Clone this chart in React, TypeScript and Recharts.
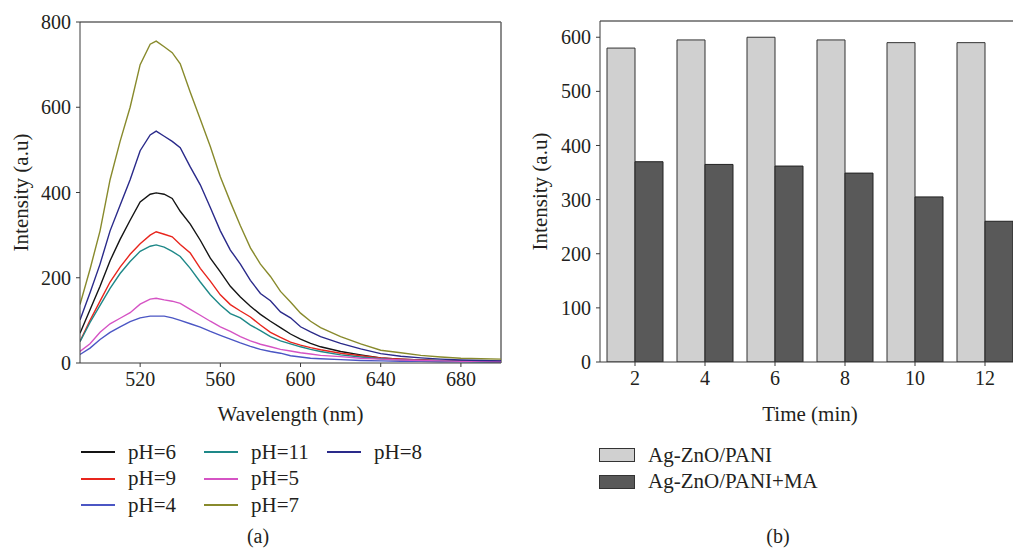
import {
  Bar,
  BarChart,
  Legend,
  Line,
  LineChart,
  ReferenceLine,
  XAxis,
  YAxis,
} from 'recharts';

const FONT =
  '"Times New Roman", "Liberation Serif", "DejaVu Serif", "Noto Serif", serif';
const TEXT = '#231f20';
const AXIS = '#3a3a3a';
const FRAME = '#666666';

// (a) emission spectra, wavelength in nm
const wavelengths = [
  490, 495, 500, 505, 510, 515, 520, 525, 528, 532, 536, 540, 545, 550, 555,
  560, 565, 570, 575, 580, 585, 590, 595, 600, 605, 610, 620, 630, 640, 650,
  660, 670, 680, 690, 700,
];
const ph6 = [
  70, 125, 180, 240, 290, 335, 378, 396, 399, 396, 386, 356, 326, 288, 246,
  214, 180, 155, 133, 114, 98, 83, 68, 56, 46, 38, 27, 19, 12, 9, 7, 6, 5, 4, 4,
];
const ph9 = [
  51, 100, 145, 190, 225, 255, 280, 300, 308, 302, 296, 278, 258, 222, 192,
  160, 137, 122, 108, 89, 72, 60, 49, 42, 36, 31, 23, 17, 12, 9, 7, 5, 4, 4, 3,
];
const ph4 = [
  20, 35, 55, 72, 85, 97, 106, 110, 110, 110, 106, 100, 92, 84, 74, 65, 56, 47,
  39, 32, 27, 23, 17, 14, 11, 10, 8, 6, 5, 4, 4, 3, 3, 3, 2,
];
const ph11 = [
  50, 95, 135, 175, 210, 238, 262, 274, 277, 272, 262, 250, 222, 190, 160, 136,
  116, 106, 89, 76, 62, 52, 45, 38, 32, 27, 19, 14, 10, 7, 6, 5, 4, 3, 3,
];
const ph5 = [
  27, 45, 72, 92, 105, 118, 138, 150, 152, 148, 145, 140, 126, 112, 98, 85, 74,
  62, 52, 44, 38, 32, 28, 24, 21, 18, 15, 11, 9, 7, 6, 5, 4, 4, 3,
];
const ph7 = [
  137, 220, 310, 430, 520, 600, 700, 748, 755, 742, 728, 702, 635, 572, 508,
  437, 378, 322, 270, 232, 203, 168, 143, 117, 98, 83, 62, 45, 30, 24, 18, 14,
  11, 10, 9,
];
const ph8 = [
  101, 165, 232, 310, 370, 430, 498, 535, 544, 532, 520, 505, 460, 418, 365,
  310, 265, 232, 194, 163, 146, 120, 106, 85, 73, 62, 46, 33, 22, 16, 12, 9, 7,
  6, 5,
];
const wlTicks = [520, 560, 600, 640, 680];
const intensityTicks = [0, 200, 400, 600, 800];

// legend order as in the figure (column by column)
const spectra = [
  { key: 'ph6', name: 'pH=6', values: ph6, color: '#141414' },
  { key: 'ph9', name: 'pH=9', values: ph9, color: '#e8251d' },
  { key: 'ph4', name: 'pH=4', values: ph4, color: '#4b56c4' },
  { key: 'ph11', name: 'pH=11', values: ph11, color: '#1e8888' },
  { key: 'ph5', name: 'pH=5', values: ph5, color: '#d553c4' },
  { key: 'ph7', name: 'pH=7', values: ph7, color: '#888a2c' },
  { key: 'ph8', name: 'pH=8', values: ph8, color: '#2a2a8a' },
];

const spectraData = wavelengths.map((wl, i) => {
  const row: Record<string, number> = { wl };
  spectra.forEach((s) => {
    row[s.key] = s.values[i];
  });
  return row;
});

// (b) intensity vs time
const times = ['2', '4', '6', '8', '10', '12'];
const plain = [580, 595, 600, 595, 590, 590];
const withMA = [370, 365, 362, 349, 305, 260];
const barTicks = [0, 100, 200, 300, 400, 500, 600];

const bars = [
  { key: 'plain', name: 'Ag-ZnO/PANI', fill: '#d0d0d0', stroke: '#333' },
  { key: 'ma', name: 'Ag-ZnO/PANI+MA', fill: '#595959', stroke: '#222' },
];

const barData = times.map((t, i) => ({ t, plain: plain[i], ma: withMA[i] }));

const tickStyle = { fill: TEXT, fontSize: 20, fontFamily: FONT };
const axisLabelStyle = { fill: TEXT, fontSize: 21, fontFamily: FONT };

// recharts sorts legend payload, so draw it from our own order
const LineLegend = () => (
  <div
    style={{
      display: 'grid',
      gridTemplateRows: 'repeat(3, 26.5px)',
      gridAutoFlow: 'column',
      gridAutoColumns: '123px',
      fontFamily: FONT,
      fontSize: 21,
      color: TEXT,
    }}
  >
    {spectra.map((s) => (
      <div key={s.key} style={{ display: 'flex', alignItems: 'center' }}>
        <svg width={34} height={4} style={{ marginRight: 13 }}>
          <line x1={0} y1={2} x2={34} y2={2} stroke={s.color} strokeWidth={2} />
        </svg>
        <span>{s.name}</span>
      </div>
    ))}
  </div>
);

const BarLegend = () => (
  <div style={{ fontFamily: FONT, fontSize: 21, color: TEXT }}>
    {bars.map((b) => (
      <div
        key={b.key}
        style={{ display: 'flex', alignItems: 'center', height: 26.5 }}
      >
        <div
          style={{
            width: 34,
            height: 12,
            background: b.fill,
            border: '1px solid #333',
            marginRight: 13,
          }}
        />
        <span>{b.name}</span>
      </div>
    ))}
  </div>
);

const Caption = ({ x, text }: { x: number; text: string }) => (
  <div
    style={{
      position: 'absolute',
      left: x - 30,
      width: 60,
      top: 525,
      textAlign: 'center',
      fontFamily: FONT,
      fontSize: 20,
      color: TEXT,
    }}
  >
    {text}
  </div>
);

export default function App() {
  return (
    <div
      style={{
        position: 'fixed',
        left: 0,
        top: 0,
        width: 1013,
        height: 554,
        overflow: 'hidden',
        background: '#fff',
        fontFamily: FONT,
      }}
    >
      <div style={{ position: 'absolute', left: 0, top: 0 }}>
        <LineChart
          width={510}
          height={554}
          data={spectraData}
          margin={{ top: 22, right: 9, left: 0, bottom: 124 }}
        >
          <XAxis
            dataKey='wl'
            type='number'
            domain={[490, 700]}
            ticks={wlTicks}
            allowDataOverflow
            height={67}
            tickSize={4}
            tickMargin={5}
            tick={tickStyle}
            stroke={AXIS}
            label={{
              value: 'Wavelength (nm)',
              position: 'insideBottom',
              offset: 9,
              style: axisLabelStyle,
            }}
          />
          <YAxis
            type='number'
            domain={[0, 800]}
            ticks={intensityTicks}
            width={80}
            tickSize={4}
            tickMargin={5}
            tick={tickStyle}
            stroke={AXIS}
            label={{
              value: 'Intensity (a.u)',
              angle: -90,
              position: 'insideLeft',
              offset: 21,
              style: { ...axisLabelStyle, textAnchor: 'middle' },
            }}
          />
          <ReferenceLine y={800} stroke={FRAME} strokeWidth={1.5} />
          <ReferenceLine x={700} stroke={FRAME} strokeWidth={1.5} />
          {spectra.map((s) => (
            <Line
              key={s.key}
              dataKey={s.key}
              name={s.name}
              stroke={s.color}
              strokeWidth={1.4}
              dot={false}
              type='linear'
              isAnimationActive={false}
            />
          ))}
          <Legend
            layout='horizontal'
            verticalAlign='middle'
            align='center'
            wrapperStyle={{ left: 81, top: 439, width: 400 }}
            content={LineLegend}
          />
        </LineChart>
      </div>

      <div style={{ position: 'absolute', left: 520, top: 0 }}>
        <BarChart
          width={510}
          height={554}
          data={barData}
          barCategoryGap='10%'
          barGap={0}
          margin={{ top: 21, right: 10, left: 0, bottom: 124 }}
        >
          <XAxis
            dataKey='t'
            height={68}
            tickSize={4}
            tickMargin={5}
            tick={tickStyle}
            stroke={AXIS}
            label={{
              value: 'Time (min)',
              position: 'insideBottom',
              offset: 9,
              style: axisLabelStyle,
            }}
          />
          <YAxis
            type='number'
            domain={[0, 630]}
            ticks={barTicks}
            allowDataOverflow
            width={80}
            tickSize={4}
            tickMargin={5}
            tick={tickStyle}
            stroke={AXIS}
            label={{
              value: 'Intensity (a.u)',
              angle: -90,
              position: 'insideLeft',
              offset: 20,
              style: { ...axisLabelStyle, textAnchor: 'middle' },
            }}
          />
          <ReferenceLine y={630} stroke={FRAME} strokeWidth={1.5} />
          {bars.map((b) => (
            <Bar
              key={b.key}
              dataKey={b.key}
              name={b.name}
              fill={b.fill}
              stroke={b.stroke}
              strokeWidth={1}
              isAnimationActive={false}
            />
          ))}
          <Legend
            layout='horizontal'
            verticalAlign='middle'
            align='center'
            wrapperStyle={{ left: 79, top: 442, width: 300 }}
            content={BarLegend}
          />
        </BarChart>
      </div>

      <Caption x={258} text='(a)' />
      <Caption x={778} text='(b)' />
    </div>
  );
}
